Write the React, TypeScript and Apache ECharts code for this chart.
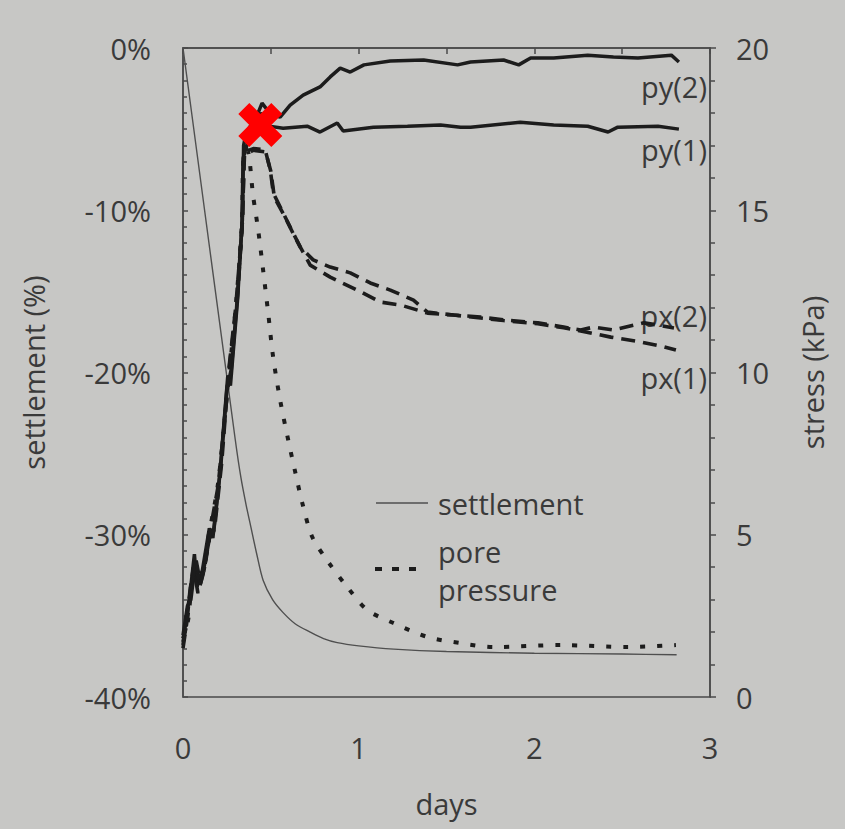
import React, { useEffect, useRef } from "react";
import * as echarts from "echarts";

// settlement (%) against days
const settlementDays = [0, 0.297, 0.33, 0.36, 0.382, 0.42, 0.456, 0.51, 0.57, 0.64, 0.724, 0.8, 0.878, 1.0, 1.2, 1.5, 2.0, 2.5, 2.81];
const settlementPct = [0, -24.1, -26.5, -28.2, -29.3, -31.2, -32.8, -34.0, -34.8, -35.5, -36.0, -36.4, -36.65, -36.85, -37.05, -37.2, -37.3, -37.35, -37.4];

// pore pressure (kPa)
const poreDays = [0, 0.03, 0.06, 0.1, 0.14, 0.2, 0.25, 0.3, 0.335, 0.345, 0.365, 0.4, 0.428, 0.456, 0.485, 0.513, 0.553, 0.599, 0.639, 0.679, 0.736, 0.827, 0.935, 1.049, 1.198, 1.392, 1.58, 1.768, 2.15, 2.532, 2.806];
const poreKpa = [1.8, 2.4, 3.8, 3.6, 4.8, 6.6, 9.3, 12.0, 14.6, 16.7, 16.86, 15.41, 14.39, 13.16, 11.83, 10.48, 9.15, 7.92, 6.93, 5.98, 4.93, 4.16, 3.39, 2.68, 2.28, 1.85, 1.66, 1.54, 1.6, 1.54, 1.6];

// vertical stress py(2)
const py2Days = [0, 0.02, 0.04, 0.065, 0.08, 0.11, 0.15, 0.17, 0.21, 0.255, 0.27, 0.31, 0.338, 0.345, 0.36, 0.42, 0.45, 0.5, 0.553, 0.61, 0.684, 0.78, 0.838, 0.895, 0.952, 1.03, 1.18, 1.37, 1.563, 1.637, 1.825, 1.911, 1.979, 2.11, 2.304, 2.45, 2.59, 2.78, 2.823];
const py2Kpa = [1.6, 2.5, 3.2, 4.4, 3.4, 3.9, 5.2, 4.9, 6.9, 9.9, 9.6, 12.2, 14.7, 17.0, 17.4, 17.9, 18.3, 17.95, 17.87, 18.24, 18.55, 18.8, 19.11, 19.38, 19.26, 19.48, 19.6, 19.63, 19.48, 19.57, 19.63, 19.48, 19.69, 19.69, 19.78, 19.72, 19.69, 19.78, 19.57];

// vertical stress py(1)
const py1Days = [0, 0.025, 0.045, 0.07, 0.09, 0.12, 0.155, 0.175, 0.215, 0.25, 0.275, 0.305, 0.335, 0.342, 0.38, 0.44, 0.48, 0.57, 0.707, 0.78, 0.878, 0.912, 1.084, 1.278, 1.466, 1.58, 1.637, 1.92, 2.11, 2.304, 2.42, 2.475, 2.704, 2.823];
const py1Kpa = [1.9, 2.8, 3.0, 4.1, 3.6, 4.0, 5.0, 5.1, 7.1, 9.5, 10.1, 12.0, 14.5, 16.6, 17.3, 18.0, 17.6, 17.53, 17.59, 17.41, 17.69, 17.44, 17.56, 17.59, 17.63, 17.56, 17.56, 17.71, 17.63, 17.59, 17.41, 17.56, 17.59, 17.5];

// horizontal stress px(2)
const px2Days = [0, 0.02, 0.04, 0.06, 0.085, 0.115, 0.15, 0.18, 0.22, 0.26, 0.31, 0.34, 0.348, 0.4, 0.468, 0.497, 0.514, 0.57, 0.627, 0.667, 0.741, 0.838, 0.952, 1.066, 1.18, 1.312, 1.392, 1.54, 1.694, 1.825, 2.02, 2.167, 2.264, 2.338, 2.45, 2.624, 2.704, 2.795];
const px2Kpa = [1.7, 2.2, 3.3, 4.0, 3.2, 3.8, 4.9, 5.2, 7.2, 10.0, 12.3, 14.8, 16.8, 16.9, 16.86, 16.24, 15.53, 14.92, 14.3, 13.87, 13.47, 13.25, 13.07, 12.76, 12.54, 12.23, 11.86, 11.77, 11.71, 11.62, 11.53, 11.4, 11.31, 11.4, 11.31, 11.53, 11.46, 11.37];

// horizontal stress px(1)
const px1Days = [0, 0.03, 0.05, 0.075, 0.1, 0.13, 0.16, 0.2, 0.245, 0.265, 0.3, 0.335, 0.35, 0.4, 0.47, 0.5, 0.52, 0.58, 0.63, 0.667, 0.724, 0.838, 0.992, 1.124, 1.238, 1.392, 1.54, 1.694, 1.825, 2.02, 2.167, 2.264, 2.435, 2.607, 2.738, 2.806];
const px1Kpa = [1.5, 2.6, 3.5, 4.2, 3.5, 4.2, 5.3, 6.5, 9.0, 10.3, 12.0, 14.4, 16.7, 16.85, 16.8, 16.2, 15.4, 14.8, 14.25, 13.87, 13.31, 12.94, 12.54, 12.17, 12.08, 11.83, 11.77, 11.68, 11.6, 11.5, 11.38, 11.28, 11.09, 10.94, 10.79, 10.69];

// marked point on the stress curves
const markDays = [0.44];
const markKpa = [17.63];

const seriesLabels = ["py(2)", "py(1)", "px(2)", "px(1)"];

const zip = (xs: number[], ys: number[]) => xs.map((x, i) => [x, ys[i]]);

const FONT = '"Open Sans", "DejaVu Sans", sans-serif';
const TEXT = "#3a3a3a";
const INK = "#1c1c1c";
const CROSS = "path://M0 25 L25 0 L50 25 L75 0 L100 25 L75 50 L100 75 L75 100 L50 75 L25 100 L0 75 L25 50 Z";

export default function App() {
  const ref = useRef<HTMLDivElement>(null);

  useEffect(() => {
    document.body.style.margin = "0";
    if (!ref.current) return;
    const chart = echarts.init(ref.current, undefined, { renderer: "svg" });

    const stressLine = (name: string, data: number[][], dashed: boolean) => ({
      name,
      type: "line",
      yAxisIndex: 1,
      data,
      showSymbol: false,
      symbol: "none",
      lineStyle: dashed
        ? { color: INK, width: 3.6, type: [14, 8] }
        : { color: INK, width: 3.5 },
      z: 3,
    });

    const labelText = (text: string, y: number) => ({
      type: "text",
      style: { text, x: 707, y, fill: TEXT, font: `29px ${FONT}`, align: "right", verticalAlign: "middle" },
    });

    chart.setOption({
      animation: false,
      backgroundColor: "#c7c7c5",
      textStyle: { fontFamily: FONT },
      grid: {
        left: 183,
        right: 135,
        top: 48,
        bottom: 132,
        show: true,
        borderColor: "#4a4a4a",
        borderWidth: 1.5,
        backgroundColor: "transparent",
      },
      xAxis: {
        type: "value",
        min: 0,
        max: 3,
        interval: 0.5,
        name: "days",
        nameLocation: "middle",
        nameGap: 92,
        nameTextStyle: { color: TEXT, fontSize: 29, fontFamily: FONT },
        axisLine: { lineStyle: { color: "#4a4a4a", width: 1.5 } },
        axisTick: { length: 6, lineStyle: { color: "#4a4a4a", width: 1.5 } },
        axisLabel: {
          color: TEXT,
          fontSize: 29,
          fontFamily: FONT,
          margin: 36,
          formatter: (v: number) => (Number.isInteger(v) ? String(v) : ""),
        },
        splitLine: { show: false },
      },
      yAxis: [
        {
          type: "value",
          min: -40,
          max: 0,
          interval: 10,
          name: "settlement (%)",
          nameLocation: "middle",
          nameRotate: 90,
          nameGap: 135,
          nameTextStyle: { color: TEXT, fontSize: 29, fontFamily: FONT },
          axisLine: { show: true, lineStyle: { color: "#4a4a4a", width: 1.5 } },
          axisTick: { inside: true, length: 5, lineStyle: { color: "#4a4a4a", width: 1.5 } },
          minorTick: { show: true, splitNumber: 10, length: 4, lineStyle: { color: "#4a4a4a", width: 1.5 } },
          axisLabel: { color: TEXT, fontSize: 29, fontFamily: FONT, margin: 32, formatter: "{value}%" },
          splitLine: { show: false },
        },
        {
          type: "value",
          min: 0,
          max: 20,
          interval: 5,
          position: "right",
          name: "stress (kPa)",
          nameLocation: "middle",
          nameRotate: 90,
          nameGap: 88,
          nameTextStyle: { color: TEXT, fontSize: 29, fontFamily: FONT },
          axisLine: { show: true, lineStyle: { color: "#4a4a4a", width: 1.5 } },
          axisTick: { length: 6, lineStyle: { color: "#4a4a4a", width: 1.5 } },
          minorTick: { show: true, splitNumber: 5, length: 5, lineStyle: { color: "#4a4a4a", width: 1.5 } },
          axisLabel: { color: TEXT, fontSize: 29, fontFamily: FONT, margin: 26 },
          splitLine: { show: false },
        },
      ],
      series: [
        {
          name: "settlement",
          type: "line",
          yAxisIndex: 0,
          data: zip(settlementDays, settlementPct),
          showSymbol: false,
          symbol: "none",
          smooth: 0.3,
          lineStyle: { color: "#4f4f4f", width: 1.4 },
          z: 2,
        },
        {
          name: "pore pressure",
          type: "line",
          yAxisIndex: 1,
          data: zip(poreDays, poreKpa),
          showSymbol: false,
          symbol: "none",
          smooth: 0.3,
          lineStyle: { color: INK, width: 4, type: [5, 12] },
          z: 2,
        },
        stressLine(seriesLabels[0], zip(py2Days, py2Kpa), false),
        stressLine(seriesLabels[1], zip(py1Days, py1Kpa), false),
        stressLine(seriesLabels[2], zip(px2Days, px2Kpa), true),
        stressLine(seriesLabels[3], zip(px1Days, px1Kpa), true),
        {
          name: "mark",
          type: "scatter",
          yAxisIndex: 1,
          data: zip(markDays, markKpa),
          symbol: CROSS,
          symbolSize: 44,
          itemStyle: { color: "#ff0000", opacity: 1 },
          z: 10,
        },
      ],
      graphic: [
        labelText(seriesLabels[0], 86),
        labelText(seriesLabels[1], 149),
        labelText(seriesLabels[2], 315),
        labelText(seriesLabels[3], 377),
        {
          type: "line",
          shape: { x1: 376, y1: 503, x2: 428, y2: 503 },
          style: { stroke: "#4f4f4f", lineWidth: 1.4 },
        },
        {
          type: "text",
          style: { text: "settlement", x: 438, y: 503, fill: TEXT, font: `29px ${FONT}`, align: "left", verticalAlign: "middle" },
        },
        {
          type: "line",
          shape: { x1: 375, y1: 569, x2: 419, y2: 569 },
          style: { stroke: INK, lineWidth: 4, lineDash: [7, 10] },
        },
        {
          type: "text",
          style: { text: "pore", x: 438, y: 551, fill: TEXT, font: `29px ${FONT}`, align: "left", verticalAlign: "middle" },
        },
        {
          type: "text",
          style: { text: "pressure", x: 438, y: 589, fill: TEXT, font: `29px ${FONT}`, align: "left", verticalAlign: "middle" },
        },
      ],
    });

    return () => chart.dispose();
  }, []);

  return <div ref={ref} style={{ width: 845, height: 829 }} />;
}
